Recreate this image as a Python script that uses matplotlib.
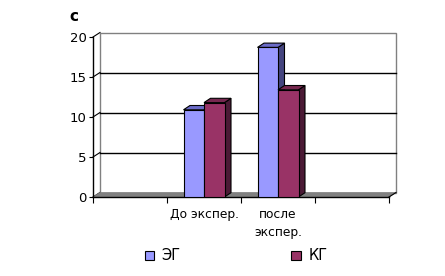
import matplotlib.pyplot as plt
from matplotlib.patches import Polygon, Patch
from matplotlib.lines import Line2D

# data
categories = ['', 'До экспер.', 'после\nэкспер.', '']
eg_values = [None, 10.9, 18.7, None]   # ЭГ
kg_values = [None, 11.8, 13.4, None]   # КГ
y_ticks = [0, 5, 10, 15, 20]

plt.rcParams['font.family'] = ['DejaVu Sans']
plt.rcParams['font.size'] = 8

W, H = 445, 276
fig = plt.figure(figsize=(W / 100, H / 100), dpi=100)
fig.patch.set_facecolor('white')

# front plane of the plot in pixels
left_px, right_px, top_px, bottom_px = 93, 389, 37, 197
ax = fig.add_axes([left_px / W, 1 - bottom_px / H,
                   (right_px - left_px) / W, (bottom_px - top_px) / H])
n = len(categories)
ax.set_xlim(0, n)
ax.set_ylim(0, 20)
ax.set_facecolor('none')

px_x = (right_px - left_px) / n   # pixels per x unit
px_y = (bottom_px - top_px) / 20  # pixels per y unit

# depth offsets (pixels -> data units)
wall_dx, wall_dy = 7 / px_x, 4.5 / px_y
bar_dx, bar_dy = 6.5 / px_x, 4.3 / px_y

# back wall
ax.add_patch(Polygon([(wall_dx, wall_dy), (n + wall_dx, wall_dy),
                      (n + wall_dx, 20 + wall_dy), (wall_dx, 20 + wall_dy)],
                     closed=True, facecolor='white', edgecolor='#808080',
                     lw=1, clip_on=False, zorder=0))
# gridlines on the wall and little diagonals from the axis ticks
for v in y_ticks:
    if 0 < v < 20:
        ax.add_line(Line2D([wall_dx, n + wall_dx], [v + wall_dy, v + wall_dy],
                           color='black', lw=1, clip_on=False, zorder=1))
    ax.add_line(Line2D([0, wall_dx], [v, v + wall_dy], color='black', lw=0.8,
                       clip_on=False, zorder=1))
# floor
ax.add_patch(Polygon([(0, 0), (n, 0), (n + wall_dx, wall_dy), (wall_dx, wall_dy)],
                     closed=True, facecolor='#808080', edgecolor='#808080',
                     lw=0.5, clip_on=False, zorder=1))
ax.add_line(Line2D([n, n + wall_dx], [0, wall_dy], color='black', lw=0.8,
                   clip_on=False, zorder=1))

bar_w = 20.5 / px_x
series = [
    (eg_values, -bar_w / 2, '#9999FF', '#6B6BC8', '#45457F', 3),
    (kg_values, bar_w / 2, '#993366', '#772850', '#4B1A35', 6),
]
for values, shift, front, top, side, z in series:
    for i, v in enumerate(values):
        if v is None:
            continue
        x0 = i + 0.5 + shift - bar_w / 2
        x1 = x0 + bar_w
        ax.add_patch(Polygon([(x1, 0), (x1 + bar_dx, bar_dy),
                              (x1 + bar_dx, v + bar_dy), (x1, v)],
                             closed=True, facecolor=side, edgecolor='black',
                             lw=0.8, clip_on=False, zorder=z))
        ax.add_patch(Polygon([(x0, v), (x1, v), (x1 + bar_dx, v + bar_dy),
                              (x0 + bar_dx, v + bar_dy)],
                             closed=True, facecolor=top, edgecolor='black',
                             lw=0.8, clip_on=False, zorder=z))
        ax.bar(x0, v, width=bar_w, align='edge', color=front,
               edgecolor='black', lw=0.8, zorder=z + 1)

# axes lines and ticks
for s in ['top', 'right']:
    ax.spines[s].set_visible(False)
ax.spines['left'].set_linewidth(1)
ax.spines['bottom'].set_linewidth(1)
ax.spines['left'].set_zorder(2)
ax.spines['bottom'].set_zorder(2)

ax.set_yticks(y_ticks)
ax.set_yticklabels([str(t) for t in y_ticks], fontsize=9.5)
ax.tick_params(axis='y', direction='out', length=3, width=0.8, pad=1.5)

ax.set_xticks(range(n + 1))
ax.set_xticklabels([])
ax.tick_params(axis='x', which='major', direction='out', length=4, width=0.8)
ax.set_xticks([i + 0.5 for i in range(n)], minor=True)
ax.set_xticklabels(categories, minor=True, fontsize=8.8, linespacing=1.5)
ax.tick_params(axis='x', which='minor', length=0, pad=8)

fig.text(69 / W, 1 - 24 / H, 'с', fontsize=11, fontweight='bold',
         ha='left', va='bottom')

handles = [Patch(facecolor='#9999FF', edgecolor='black', lw=0.8, label='ЭГ'),
           Patch(facecolor='#993366', edgecolor='black', lw=0.8, label='КГ')]
fig.legend(handles=handles, loc='center', ncol=2, frameon=False,
           bbox_to_anchor=(236 / W, 1 - 256 / H), fontsize=10.5,
           handlelength=0.65, handleheight=0.65, handletextpad=0.5,
           columnspacing=7.6)

fig.savefig('out.png', dpi=100)
